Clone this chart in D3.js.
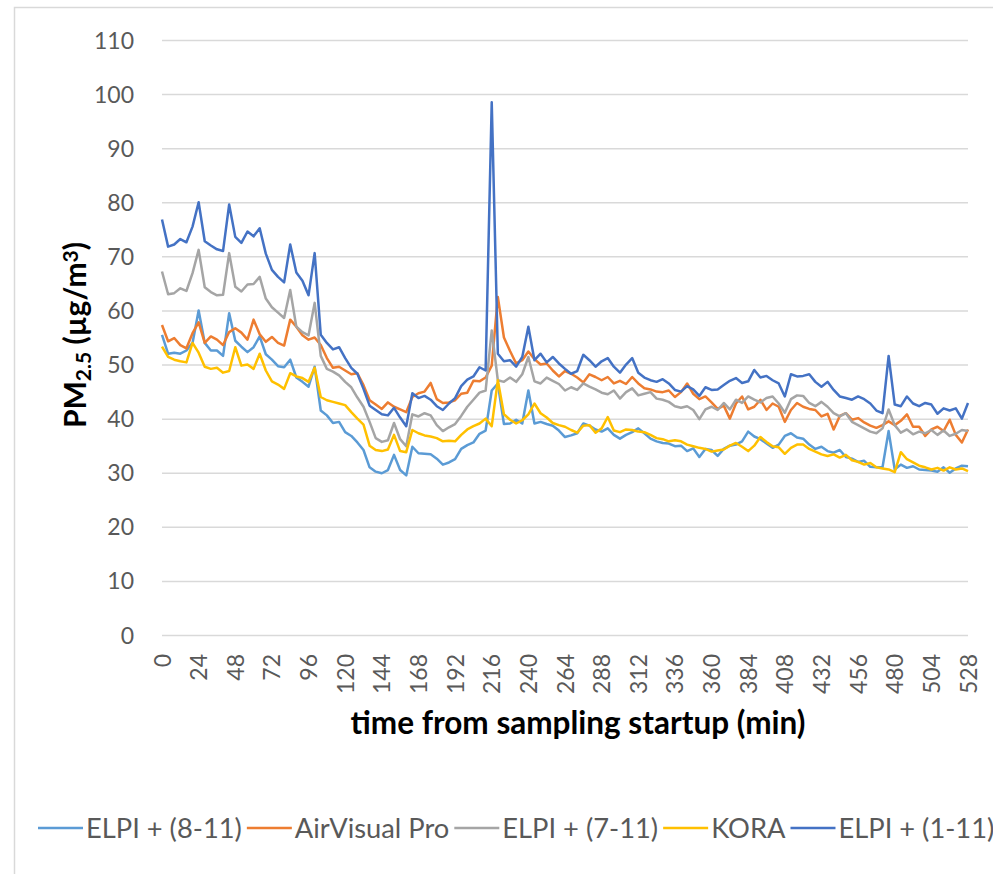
<!DOCTYPE html>
<html>
<head>
<meta charset="utf-8">
<script src="https://cdn.jsdelivr.net/npm/d3@7"></script>
<style>
  body { margin: 0; background: #fff; }
  svg { display: block; }
  .axis text { font-family: Lato, "Open Sans", sans-serif; fill: #595959; }
  .axis-title { font-family: Lato, "Open Sans", sans-serif; font-weight: bold; fill: #000; }
  .legend text { font-family: Lato, "Open Sans", sans-serif; fill: #595959; }
</style>
</head>
<body>
<svg id="chart"></svg>
<script>
// minutes from sampling startup, one reading every 4 min
const minutes = d3.range(0, 529, 4);
const xTicks = d3.range(0, 529, 24);
const yTicks = d3.range(0, 111, 10);

const seriesNames = ['ELPI + (8-11)', 'AirVisual Pro', 'ELPI + (7-11)', 'KORA', 'ELPI + (1-11)'];
const seriesColors = ['#5B9BD5', '#ED7D31', '#A5A5A5', '#FFC000', '#4472C4'];

const elpi811 = [
  55.5, 52.0, 52.2, 52.0, 52.6, 54.0, 60.0, 54.0, 52.6, 52.6, 51.6, 59.5, 54.4, 53.3, 52.3, 53.2, 55.2, 51.9, 50.9, 49.7,
  49.5, 50.9, 47.6, 46.8, 45.9, 49.6, 41.5, 40.6, 39.2, 39.4, 37.5, 36.8, 35.6, 34.2, 31.0, 30.2, 29.9, 30.5, 33.3, 30.5,
  29.5, 34.8, 33.6, 33.5, 33.4, 32.6, 31.5, 31.9, 32.5, 34.4, 35.1, 35.6, 37.2, 37.8, 45.2, 46.5, 39.0, 39.1, 39.8, 39.1,
  45.2, 39.1, 39.4, 39.0, 38.7, 37.8, 36.6, 36.9, 37.3, 39.1, 38.7, 38.0, 37.6, 38.2, 37.0, 36.3, 37.0, 37.5, 38.2, 37.3,
  36.3, 35.8, 35.5, 35.4, 34.9, 35.0, 34.0, 34.5, 32.9, 34.4, 34.2, 33.1, 34.4, 35.0, 35.2, 35.8, 37.6, 36.7, 36.2, 35.4,
  34.6, 35.2, 36.8, 37.3, 36.5, 36.3, 35.2, 34.4, 34.8, 34.0, 33.7, 34.2, 32.9, 32.6, 32.0, 32.2, 31.1, 31.0, 31.0, 37.7,
  30.6, 31.5, 30.9, 31.2, 30.6, 30.5, 30.4, 30.2, 31.0, 30.0, 30.8, 31.3, 31.2
];
const airVisual = [
  57.3, 54.3, 54.9, 53.6, 53.0, 55.8, 57.8, 54.0, 55.2, 54.6, 53.6, 56.0, 56.7, 55.9, 54.6, 58.3, 55.6, 54.2, 55.1, 54.0,
  53.5, 58.3, 57.0, 55.4, 54.6, 55.0, 53.6, 51.2, 49.4, 49.6, 48.9, 48.2, 48.4, 46.2, 43.4, 42.6, 41.8, 43.0, 42.2, 41.7,
  41.2, 44.0, 44.7, 45.0, 46.6, 43.6, 42.9, 43.0, 43.4, 44.6, 44.8, 47.0, 46.9, 47.6, 49.8, 62.5, 55.0, 52.5, 50.2, 50.8,
  52.4, 51.0, 50.0, 50.2, 48.9, 47.8, 48.8, 48.3, 47.6, 46.7, 48.2, 47.7, 47.1, 47.7, 46.5, 47.0, 46.4, 47.7, 46.5, 45.6,
  45.4, 45.0, 44.9, 45.2, 44.0, 44.9, 46.5, 44.6, 43.6, 44.1, 43.0, 41.8, 42.4, 40.0, 42.8, 44.1, 41.7, 42.2, 43.5, 41.6,
  42.8, 42.2, 39.4, 41.6, 42.9, 42.2, 41.8, 41.6, 40.4, 40.9, 38.0, 40.5, 41.0, 39.8, 40.1, 39.3, 38.7, 38.3, 38.8, 39.5,
  38.8, 39.6, 40.8, 38.5, 38.5, 36.8, 38.0, 38.5, 37.7, 39.8, 37.0, 35.6, 38.0
];
const elpi711 = [
  67.2, 63.0, 63.2, 64.1, 63.6, 66.9, 71.2, 64.3, 63.4, 62.8, 62.9, 70.6, 64.4, 63.5, 64.8, 64.9, 66.2, 62.2, 60.6, 59.6,
  58.6, 63.8, 57.0, 56.0, 55.4, 61.4, 51.6, 49.2, 48.7, 48.0, 46.8, 45.8, 43.9, 42.2, 39.4, 36.4, 35.7, 36.0, 39.2, 36.2,
  34.9, 40.8, 40.4, 41.0, 40.6, 38.8, 37.7, 38.4, 39.0, 40.5, 42.2, 43.5, 44.8, 45.2, 56.3, 47.1, 46.8, 47.6, 46.8, 48.2,
  51.4, 46.9, 46.5, 47.6, 47.0, 46.4, 45.2, 45.8, 45.3, 46.5, 45.9, 45.4, 44.8, 44.5, 45.2, 43.7, 44.9, 45.6, 44.3, 44.6,
  44.9, 43.7, 43.5, 43.1, 42.3, 42.0, 42.3, 41.6, 39.9, 41.7, 42.2, 41.6, 42.9, 41.7, 43.5, 42.9, 44.1, 43.5, 43.0, 43.8,
  44.1, 42.8, 41.1, 43.6, 44.3, 44.2, 42.9, 42.3, 43.1, 42.2, 41.0, 40.4, 41.0, 39.4, 38.8, 38.2, 37.6, 37.3, 38.2, 41.7,
  38.8, 37.4, 38.0, 37.1, 37.6, 37.3, 37.9, 37.0, 37.8, 36.8, 37.2, 37.9, 37.7
];
const kora = [
  53.3, 51.4, 50.9, 50.6, 50.4, 54.0, 52.2, 49.6, 49.2, 49.4, 48.5, 48.8, 53.2, 49.8, 50.0, 49.2, 52.0, 48.9, 46.9, 46.3,
  45.5, 48.4, 47.8, 47.5, 46.8, 49.4, 44.0, 43.4, 43.1, 42.8, 42.5, 41.2, 40.0, 38.9, 35.0, 34.2, 34.0, 34.3, 37.0, 34.0,
  33.8, 37.9, 37.3, 36.9, 36.7, 36.4, 35.8, 35.9, 35.8, 37.0, 38.0, 38.6, 39.1, 40.0, 38.6, 47.1, 40.8, 39.8, 39.1, 39.7,
  40.8, 42.8, 41.0, 40.2, 39.2, 38.8, 38.5, 37.9, 37.4, 38.7, 38.8, 37.4, 38.2, 40.3, 37.8, 37.5, 38.0, 37.9, 37.6, 37.5,
  37.0, 36.4, 36.2, 35.8, 36.0, 35.8, 35.2, 34.9, 34.6, 34.4, 33.9, 34.1, 34.3, 35.0, 35.5, 34.8, 34.0, 35.0, 36.6, 35.7,
  34.9, 34.7, 33.5, 34.6, 35.2, 35.2, 34.4, 33.9, 33.4, 33.1, 33.4, 32.8, 33.3, 32.3, 32.0, 31.5, 31.8, 31.0, 30.8, 30.6,
  30.1, 33.8, 32.5, 31.9, 31.3, 31.0, 30.6, 30.9, 30.4, 31.0, 30.6, 30.8, 30.3
];
const elpi111 = [
  76.8, 71.8, 72.2, 73.2, 72.6, 75.5, 80.0, 72.8, 72.0, 71.3, 71.0, 79.6, 73.6, 72.5, 74.6, 73.7, 75.2, 70.5, 67.5, 66.2,
  65.2, 72.2, 67.0, 65.5, 62.8, 70.6, 55.5, 54.0, 52.8, 53.2, 51.2, 49.4, 48.3, 45.5, 42.4, 41.6, 40.8, 40.6, 42.0, 40.2,
  38.6, 44.7, 43.8, 44.2, 43.5, 42.3, 41.6, 42.8, 43.8, 46.0, 47.2, 47.8, 49.5, 48.9, 98.5, 52.0, 50.6, 50.8, 49.6, 51.4,
  57.0, 50.8, 52.0, 50.4, 51.4, 50.2, 49.2, 48.3, 48.8, 51.8, 50.8, 49.6, 50.6, 51.2, 49.6, 48.5, 50.0, 51.2, 48.5, 47.6,
  47.1, 46.8, 47.3, 46.5, 45.3, 45.0, 46.0, 45.4, 44.2, 45.8, 45.3, 45.4, 46.2, 47.0, 47.5, 46.6, 46.9, 49.0, 47.6, 47.9,
  47.1, 46.5, 44.1, 48.2, 47.8, 47.9, 48.2, 46.8, 45.9, 46.8, 45.3, 44.1, 43.8, 43.5, 44.1, 43.6, 42.8, 41.5, 41.0, 51.6,
  42.6, 42.3, 44.1, 42.8, 42.3, 42.9, 42.6, 40.9, 41.9, 41.5, 41.9, 40.0, 42.9
];

const seriesValues = [elpi811, airVisual, elpi711, kora, elpi111];

const W = 993, H = 874;
const margin = {top: 40, right: 25, bottom: 239, left: 162};
const width = W - margin.left - margin.right;
const height = H - margin.top - margin.bottom;

const svg = d3.select('#chart').attr('width', W).attr('height', H);

// outer chart frame
svg.append('rect')
    .attr('x', 14.5).attr('y', 7.5)
    .attr('width', W).attr('height', H)
    .attr('fill', 'none')
    .attr('stroke', '#D9D9D9')
    .attr('stroke-width', 1.5);

const chart = svg.append('g')
    .attr('transform', `translate(${margin.left},${margin.top})`);

const xScale = d3.scaleLinear().domain([0, 528]).range([0, width]);
const yScale = d3.scaleLinear().domain([0, 110]).range([height, 0]);

// y gridlines + labels
const yAxis = d3.axisLeft(yScale)
    .tickValues(yTicks)
    .tickSize(-width)
    .tickPadding(28);

chart.append('g')
    .attr('class', 'axis y-axis')
    .call(yAxis)
    .call(g => g.select('.domain').remove())
    .call(g => g.selectAll('line').attr('stroke', '#D9D9D9').attr('stroke-width', 1.5))
    .call(g => g.selectAll('text').style('font-size', '23px').attr('dy', '0.35em'));

// x labels, rotated
const xAxis = d3.axisBottom(xScale)
    .tickValues(xTicks)
    .tickSize(0);

chart.append('g')
    .attr('class', 'axis x-axis')
    .attr('transform', `translate(0,${height})`)
    .call(xAxis)
    .call(g => g.select('.domain').remove())
    .call(g => g.selectAll('text')
        .style('font-size', '23px')
        .attr('text-anchor', 'end')
        .attr('y', 0)
        .attr('dy', '0.35em')
        .attr('transform', 'translate(0,19) rotate(-90)'));

// lines
const line = d3.line()
    .x((d, i) => xScale(minutes[i]))
    .y(d => yScale(d));

chart.selectAll('.series')
    .data(seriesValues)
  .join('path')
    .attr('class', 'series')
    .attr('d', line)
    .attr('fill', 'none')
    .attr('stroke', (d, i) => seriesColors[i])
    .attr('stroke-width', 2.5)
    .attr('stroke-linejoin', 'round');

// axis titles
svg.append('text')
    .attr('class', 'axis-title')
    .attr('x', margin.left + width / 2 + 13)
    .attr('y', 734)
    .attr('text-anchor', 'middle')
    .style('font-size', '31.5px')
    .text('time from sampling startup (min)');

const yTitle = svg.append('text')
    .attr('class', 'axis-title')
    .attr('text-anchor', 'middle')
    .attr('transform', 'translate(86,335) rotate(-90)')
    .style('font-size', '30px');
yTitle.append('tspan').text('PM');
yTitle.append('tspan').attr('baseline-shift', '-25%').style('font-size', '21px').text('2.5');
yTitle.append('tspan').text(' (µg/m');
yTitle.append('tspan').attr('baseline-shift', '40%').style('font-size', '21px').text('3');
yTitle.append('tspan').text(')');

// legend
const legend = svg.append('g').attr('class', 'legend');
let lx = 38;
seriesNames.forEach((name, i) => {
  legend.append('line')
      .attr('x1', lx).attr('x2', lx + 45)
      .attr('y1', 828).attr('y2', 828)
      .attr('stroke', seriesColors[i])
      .attr('stroke-width', 2.6);
  const t = legend.append('text')
      .attr('x', lx + 48)
      .attr('y', 828)
      .attr('dy', '0.35em')
      .style('font-size', '27.3px')
      .text(name);
  lx += 48 + t.node().getComputedTextLength() + 5;
});
</script>
</body>
</html>
